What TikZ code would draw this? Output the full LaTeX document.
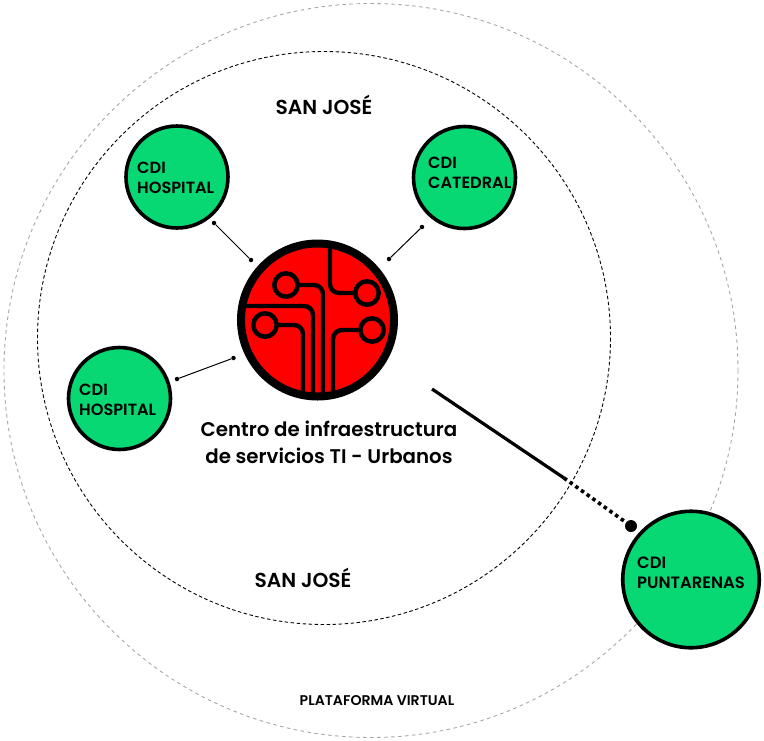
\documentclass[tikz,border=0pt]{standalone}
\usepackage{fontspec}
\setmainfont{Poppins}
\newfontfamily\heavyfont{Poppins SemiBold}
\newfontfamily\midfont{Poppins SemiBold}
\definecolor{cdigreen}{HTML}{08D873}
\tikzset{
 x=1pt,y=-1pt,
 cdi/.style={circle,draw=black,fill=cdigreen,line width=3.6pt,inner sep=0pt},
 lbl/.style={inner sep=0pt,align=left,anchor=west,font=\midfont\fontsize{16.2}{20}\selectfont,text=black},
 big/.style={inner sep=0pt,align=center,font=\heavyfont\fontsize{19.8}{27}\selectfont,text=black},
 sj/.style={inner sep=0pt,font=\heavyfont\fontsize{20.2}{24}\selectfont,text=black},
 trace/.style={line width=4.4pt,draw=black,rounded corners=9pt},
 ring/.style={line width=4.5pt,draw=black,fill=none},
 link/.style={line width=1pt,draw=black},
 dot/.style={circle,fill=black,inner sep=0pt,minimum size=#1},
}
\begin{document}
\begin{tikzpicture}
\useasboundingbox (0,0) rectangle (764,740);
\draw[black!35,line width=.9pt,dash pattern=on 3.5pt off 3.5pt] (371,370.5) circle (367);
\draw[black,line width=.9pt,dash pattern=on 3.5pt off 2.5pt] (324,338) circle (286.5);
% centre
\node[circle,draw=black,fill=red,line width=8pt,minimum size=153pt,inner sep=0pt] (hub) at (317.5,320) {};
\draw[trace] (278,325)--(303,325)--(303,394);
\draw[trace] (243,306)--(313,306)--(313,396);
\draw[trace] (299,285)--(323,285)--(323,396);
\draw[trace] (358,330)--(333,330)--(333,394);
\draw[trace] (330,246)--(330,293)--(356,293);
\draw[ring] (265,325) circle (11.7);
\draw[ring] (286,285) circle (11.7);
\draw[ring] (367,293) circle (11.7);
\draw[ring] (372,330) circle (11.7);
% CDI
\node[cdi,minimum size=102pt] (h1) at (177,177) {};
\node[cdi,minimum size=102pt] (c1) at (464.5,177.5) {};
\node[cdi,minimum size=102pt] (h2) at (119.5,398.5) {};
\node[cdi,minimum size=136.5pt] (p1) at (691,579.5) {};
\node[lbl] (th1) at (137,178) {CDI\\HOSPITAL};
\node[lbl] (tc1) at (428,173) {CDI\\CATEDRAL};
\node[lbl] (th2) at (79,399.5) {CDI\\HOSPITAL};
\node[lbl,font=\midfont\fontsize{16.4}{20}\selectfont] (tp1) at (637,573) {CDI\\PUNTARENAS};
% links
\node[dot=4.5pt] (d1) at (214,223) {};
\node[dot=4.5pt] (d2) at (251,260) {};
\draw[link] (d1)--(d2);
\node[dot=4.5pt] (d3) at (422,227) {};
\node[dot=4.5pt] (d4) at (389,259) {};
\draw[link] (d3)--(d4);
\node[dot=4.5pt] (d5) at (177,379) {};
\node[dot=4.5pt] (d6) at (233.5,358) {};
\draw[link] (d5)--(d6);
% long
\coordinate (l0) at (432,389);
\coordinate (l1) at (564,478);
\node[dot=12pt] (d7) at (631,526) {};
\draw[line width=3.2pt] (l0)--(l1);
\draw[line width=3.6pt,dash pattern=on 3.5pt off 3.5pt] (l1)--(d7);
\node[big] (t) at (329,442) {Centro de infraestructura\\de servicios TI - Urbanos};
\node[sj] (s1) at (324,105) {SAN JOSÉ};
\node[sj] (s2) at (303,578) {SAN JOSÉ};
\node[inner sep=0pt,font=\midfont\fontsize{14.1}{17}\selectfont] (pv) at (377,701) {PLATAFORMA VIRTUAL};
\end{tikzpicture}
\end{document}
